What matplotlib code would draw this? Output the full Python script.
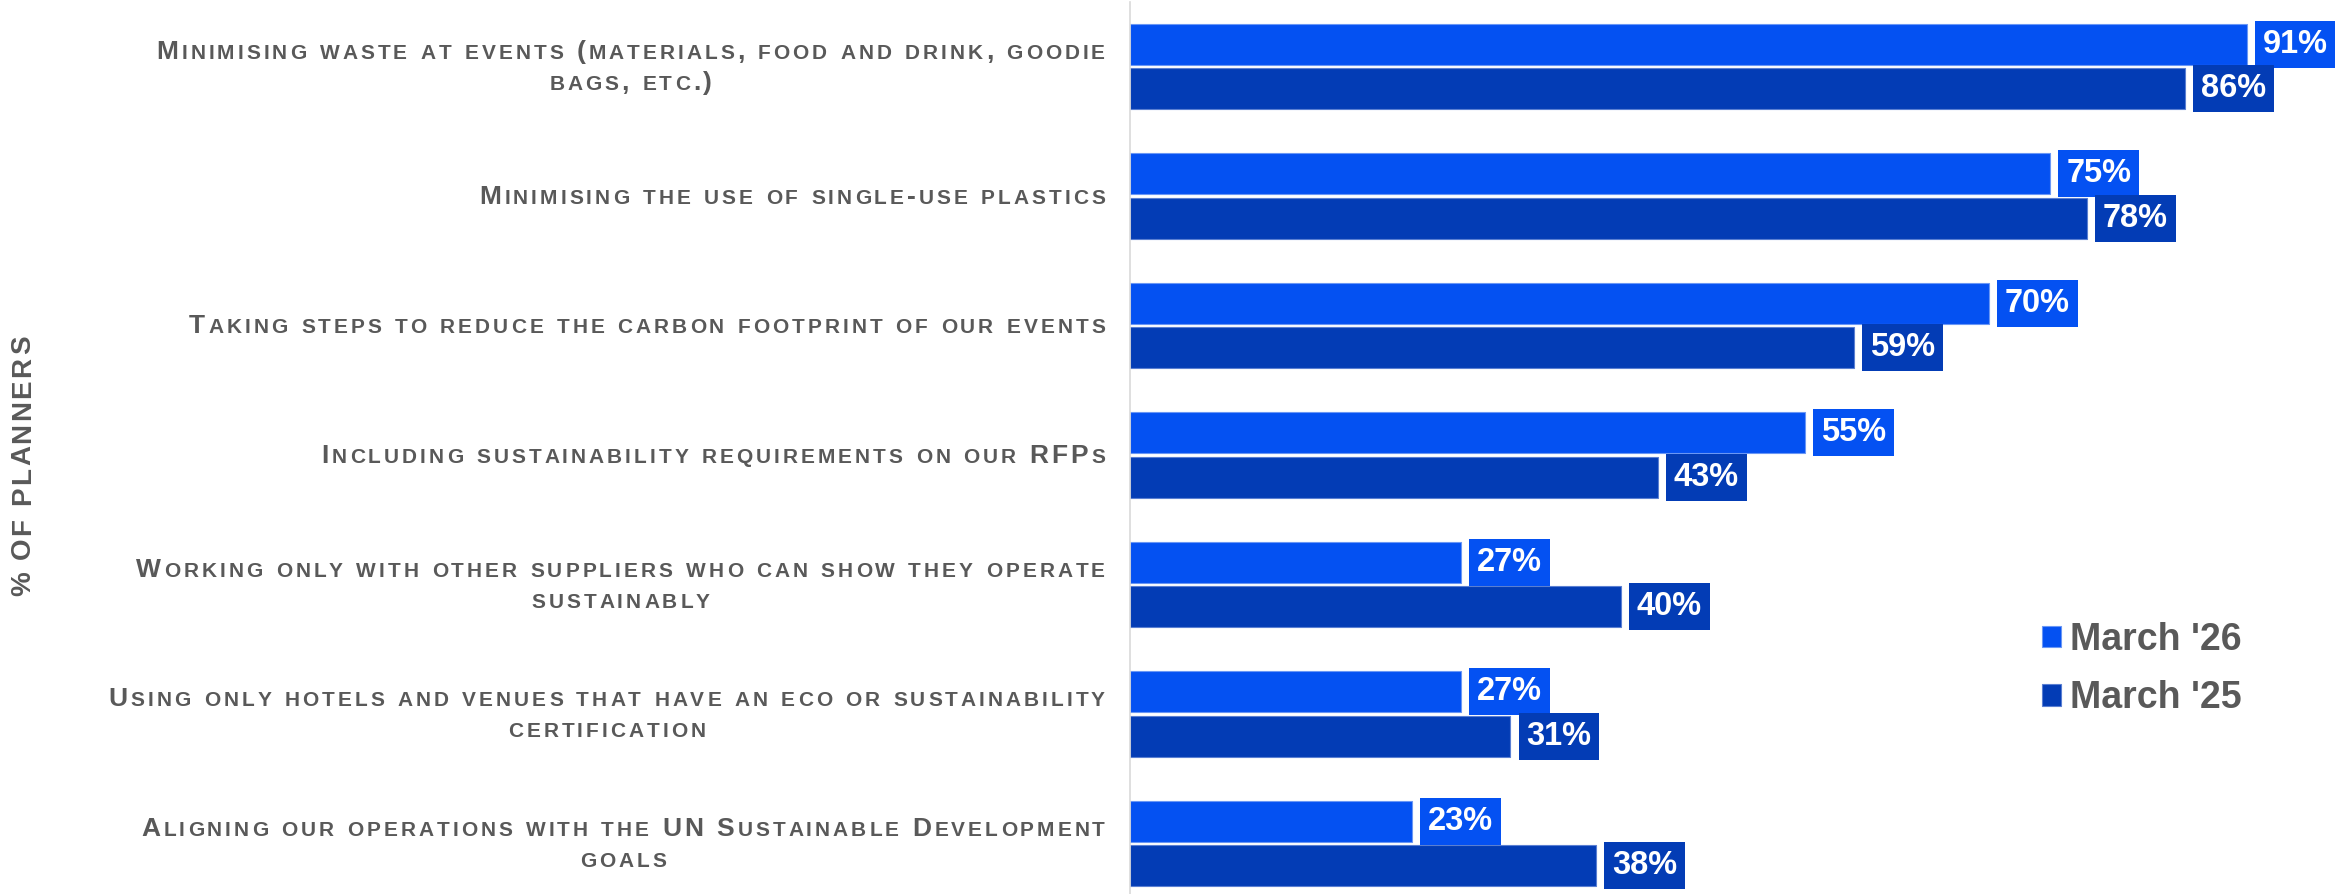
import matplotlib
matplotlib.use("Agg")
import matplotlib.pyplot as plt
import numpy as np
from matplotlib import font_manager
from matplotlib.ft2font import FT2Font
from matplotlib.transforms import IdentityTransform


# survey items, already split into the lines they are printed on
categories = [
    ["Minimising waste at events (materials, food and drink, goodie", "bags, etc.)"],
    ["Minimising the use of single-use plastics"],
    ["Taking steps to reduce the carbon footprint of our events"],
    ["Including sustainability requirements on our RFPs"],
    ["Working only with other suppliers who can show they operate", "sustainably"],
    ["Using only hotels and venues that have an eco or sustainability", "certification"],
    ["Aligning our operations with the UN Sustainable Development", "goals"],
]
march_26 = [91, 75, 70, 55, 27, 27, 23]
march_25 = [86, 78, 59, 43, 40, 31, 38]
series_names = ["March '26", "March '25"]
y_title = "% OF PLANNERS"

BLUE = "#0451F2"
NAVY = "#033CB5"
GREY = "#595959"
FONT = "Liberation Sans"

W, H, DPI = 2343, 894, 100
AX_LEFT = 1130          # pixel column of the category axis
PX_PER_PCT = 12.27

fig = plt.figure(figsize=(W / DPI, H / DPI), dpi=DPI)
ax = fig.add_axes([AX_LEFT / W, 0, (W - AX_LEFT) / W, 1 - 2 / H])

y = np.arange(len(categories))
bar_h = 0.317
off = 0.172
b1 = ax.barh(y - off, march_26, height=bar_h, color=BLUE, edgecolor="#6a97f5",
             linewidth=0.8, label=series_names[0])
b2 = ax.barh(y + off, march_25, height=bar_h, color=NAVY, edgecolor="#5a7fd2",
             linewidth=0.8, label=series_names[1])

ax.set_xlim(0, (W - AX_LEFT) / PX_PER_PCT)
ax.set_ylim(len(categories) - 1 + 0.39, -0.498)
ax.set_xticks([])
ax.set_yticks([])
for side in ("top", "right", "bottom"):
    ax.spines[side].set_visible(False)
ax.spines["left"].set_color("#d9d9d9")
ax.spines["left"].set_linewidth(1.2)

# value tags: white text on a box of the bar colour
for bars, vals, col in ((b1, march_26, BLUE), (b2, march_25, NAVY)):
    for bar, v in zip(bars, vals):
        ax.annotate(f"{v}%", xy=(v, bar.get_y() + bar.get_height() / 2),
                    xytext=(16, 0), textcoords="offset pixels",
                    ha="left", va="center", color="white", fontsize=23.5,
                    fontweight="bold", family=FONT,
                    bbox=dict(boxstyle="square,pad=0.24", fc=col, ec="none"))

leg = ax.legend(handles=[b1, b2], labels=series_names, loc="upper left",
                bbox_to_anchor=(2042 / W, 1 - 622 / H), bbox_transform=fig.transFigure,
                frameon=False, prop=dict(family=FONT, weight="bold", size=27),
                handlelength=0.5, handleheight=0.5, handletextpad=0.24,
                labelspacing=0.59, borderpad=0, borderaxespad=0)
for t in leg.get_texts():
    t.set_color(GREY)

# small caps with letter spacing, drawn glyph by glyph
ft = FT2Font(font_manager.findfont(font_manager.FontProperties(family=FONT, weight="bold")))
BIG, SMALL, TRACK = 19, 15, 3.0


def advance(ch, size):
    ft.set_size(size, DPI)
    return ft.load_char(ord(ch)).linearHoriAdvance / 65536


def glyphs(line):
    return [(c.upper(), SMALL) if c.islower() else (c, BIG) for c in line]


def line_width(gl, track):
    return sum(advance(c, s) for c, s in gl) + track * (len(gl) - 1)


def draw_run(gl, x, yb, track, rotation=0):
    for c, s in gl:
        if c != " ":
            if rotation:
                fig.text(x, yb, c, transform=IdentityTransform(), fontsize=s,
                         fontweight="bold", family=FONT, color=GREY, rotation=90,
                         rotation_mode="anchor", ha="left", va="baseline")
            else:
                fig.text(x, yb, c, transform=IdentityTransform(), fontsize=s,
                         fontweight="bold", family=FONT, color=GREY,
                         ha="left", va="baseline")
        step = advance(c, s) + track
        if rotation:
            yb += step
        else:
            x += step


LABEL_RIGHT = 1105
LINE_GAP = 31
for i, lines in enumerate(categories):
    yc = ax.transData.transform((0, i))[1]
    gls = [glyphs(l) for l in lines]
    widths = [line_width(g, TRACK) for g in gls]
    cx = LABEL_RIGHT - max(widths) / 2
    n = len(lines)
    for k, (g, w) in enumerate(zip(gls, widths)):
        yb = yc - 8 - (k - (n - 1) / 2) * LINE_GAP
        draw_run(g, cx - w / 2, yb, TRACK)

# rotated axis title
title_gl = [(c, 20) for c in y_title]
tw = line_width(title_gl, 2.4)
draw_run(title_gl, 30, H - 466 - tw / 2, 2.4, rotation=90)

fig.savefig("out.png", dpi=DPI, facecolor="white")
